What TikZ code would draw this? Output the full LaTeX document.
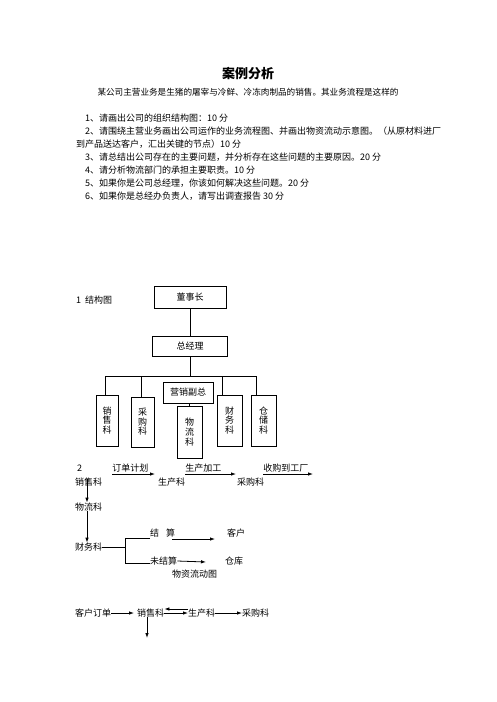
\documentclass[tikz,border=0pt]{standalone}
\usepackage{fontspec}
\setmainfont{Noto Sans CJK SC}
\usetikzlibrary{arrows.meta}
\newcommand\bodyfs{\fontsize{9}{9.6}\selectfont}
\begin{document}
\begin{tikzpicture}[x=1pt,y=-1pt,
  every node/.style={inner sep=0pt, font=\bodyfs},
  box/.style={draw, line width=0.7pt, align=center},
  ln/.style={line width=0.7pt},
  arr/.style={line width=0.8pt, -{Latex[length=5pt,width=3.5pt]}},
]
\useasboundingbox (0,0) rectangle (496,702);
% header
\node[font=\fontsize{13}{14}\selectfont\bfseries] (title) at (248,74) {案例分析};
\node[font=\fontsize{8.6}{9}\selectfont] (intro) at (248,92) {某公司主营业务是生猪的屠宰与冷鲜、冷冻肉制品的销售。其业务流程是这样的};
\node[anchor=west] (q1) at (85,118) {1、请画出公司的组织结构图：10 分};
\node[anchor=west] (q2) at (85,131) {2、请围绕主营业务画出公司运作的业务流程图、并画出物资流动示意图。（从原材料进厂};
\node[anchor=west] (q2b) at (76,144) {到产品送达客户，汇出关键的节点）10 分};
\node[anchor=west] (q3) at (85,157) {3、请总结出公司存在的主要问题，并分析存在这些问题的主要原因。20 分};
\node[anchor=west] (q4) at (85,170) {4、请分析物流部门的承担主要职责。10 分};
\node[anchor=west] (q5) at (85,183) {5、如果你是公司总经理，你该如何解决这些问题。20 分};
\node[anchor=west] (q6) at (85,196) {6、如果你是总经办负责人，请写出调查报告 30 分};
% org chart
\node[anchor=west] (l1) at (76,300) {1\ \ 结构图};
\node[box, minimum width=72, minimum height=22] (dsz) at (190,297) {董事长};
\node[box, minimum width=75, minimum height=20] (zjl) at (190,346) {总经理};
\node[box, minimum width=50, minimum height=21] (yx) at (188,392.5) {营销副总};
\node[box, minimum width=22, minimum height=51] (xs) at (107,420.5) {销\\售\\科};
\node[box, minimum width=23, minimum height=50] (cg) at (142.5,422) {采\\购\\科};
\node[box, minimum width=25, minimum height=52] (wl) at (189.5,432) {物\\流\\科};
\node[box, minimum width=25, minimum height=51] (cw) at (229.5,420.5) {财\\务\\科};
\node[box, minimum width=25, minimum height=51] (cc) at (263.5,420.5) {仓\\储\\科};
\coordinate (hL) at (105,376);
\coordinate (hR) at (256,376);
\coordinate (d2) at (141,376);
\coordinate (d4) at (222,376);
\draw[ln] (dsz) -- (zjl);
\draw[ln] (zjl.south) -- (zjl.south |- hL);
\draw[ln] (hL) -- (hR);
\draw[ln] (hL) -- (hL |- xs.north);
\draw[ln] (d2) -- (d2 |- cg.north);
\draw[ln] (d4) -- (d4 |- cw.north);
\draw[ln] (hR) -- (hR |- cc.north);
\draw[ln] (wl.north) -- (wl.north |- yx.south);
% flow 2
\node[anchor=west] (n2) at (77,468) {2};
\node[anchor=west] (fxs) at (75,482) {销售科};
\node[anchor=west] (fsc) at (158,482) {生产科};
\node[anchor=west] (fcg) at (237,482) {采购科};
\coordinate (a1s) at (112,474); \coordinate (a1e) at (155,474);
\coordinate (a2s) at (185,474); \coordinate (a2e) at (236,474);
\coordinate (a3s) at (263,474); \coordinate (a3e) at (313,474);
\draw[arr] (a1s) -- (a1e) node[pos=0, anchor=south west, yshift=1.5pt] {订单计划};
\draw[arr] (a2s) -- (a2e) node[pos=0, anchor=south west, yshift=1.5pt] {生产加工};
\draw[arr] (a3s) -- (a3e) node[pos=0, anchor=south west, yshift=1.5pt] {收购到工厂};
\node[anchor=west] (fwl) at (75,507) {物流科};
\node[anchor=west] (fcw) at (75,547) {财务科};
\coordinate (v1) at (87,479);
\draw[arr] (v1) -- (v1 |- fwl.north);
\draw[arr] (fwl.south -| v1) -- (fcw.north -| v1);
\coordinate (bk) at (125,547);
\coordinate (bt) at (125,538);
\coordinate (bb) at (125,563);
\draw[ln] (fcw.east) -- (bk);
\draw[ln] (bt) -- (bb);
\node[anchor=west] (js) at (150,533) {结\hspace{7pt}算};
\node[anchor=west] (kh) at (227,533) {客户};
\node[anchor=west] (wjs) at (150,561) {未结算};
\node[anchor=west] (ck) at (225,561) {仓库};
\node[anchor=west] (wzl) at (172,574) {物资流动图};
\draw[ln] (bt) -- (bt -| js.west);
\draw[ln] (bb) -- (bb -| wjs.west);
\coordinate (j1) at (172,539); \coordinate (j2) at (215,539);
\draw[arr] (j1) -- (j2);
\coordinate (w2) at (206,562);
\draw[arr] (wjs.east) -- (w2);
% bottom flow
\node[anchor=west] (khdd) at (75,613) {客户订单};
\node[anchor=west] (bxs) at (137,613) {销售科};
\node[anchor=west] (bsc) at (188,613) {生产科};
\node[anchor=west] (bcg) at (242,613) {采购科};
\draw[arr] (khdd.east) -- ([xshift=-3pt]bxs.west);
\draw[arr] (bxs.east) -- (bsc.west);
\draw[arr] ([yshift=4pt]bsc.west) -- ([yshift=4pt]bxs.east);
\draw[arr] (bsc.east) -- (bcg.west);
\coordinate (bd) at (147,638);
\draw[arr] (bxs.south -| bd) -- (bd);
\end{tikzpicture}
\end{document}
